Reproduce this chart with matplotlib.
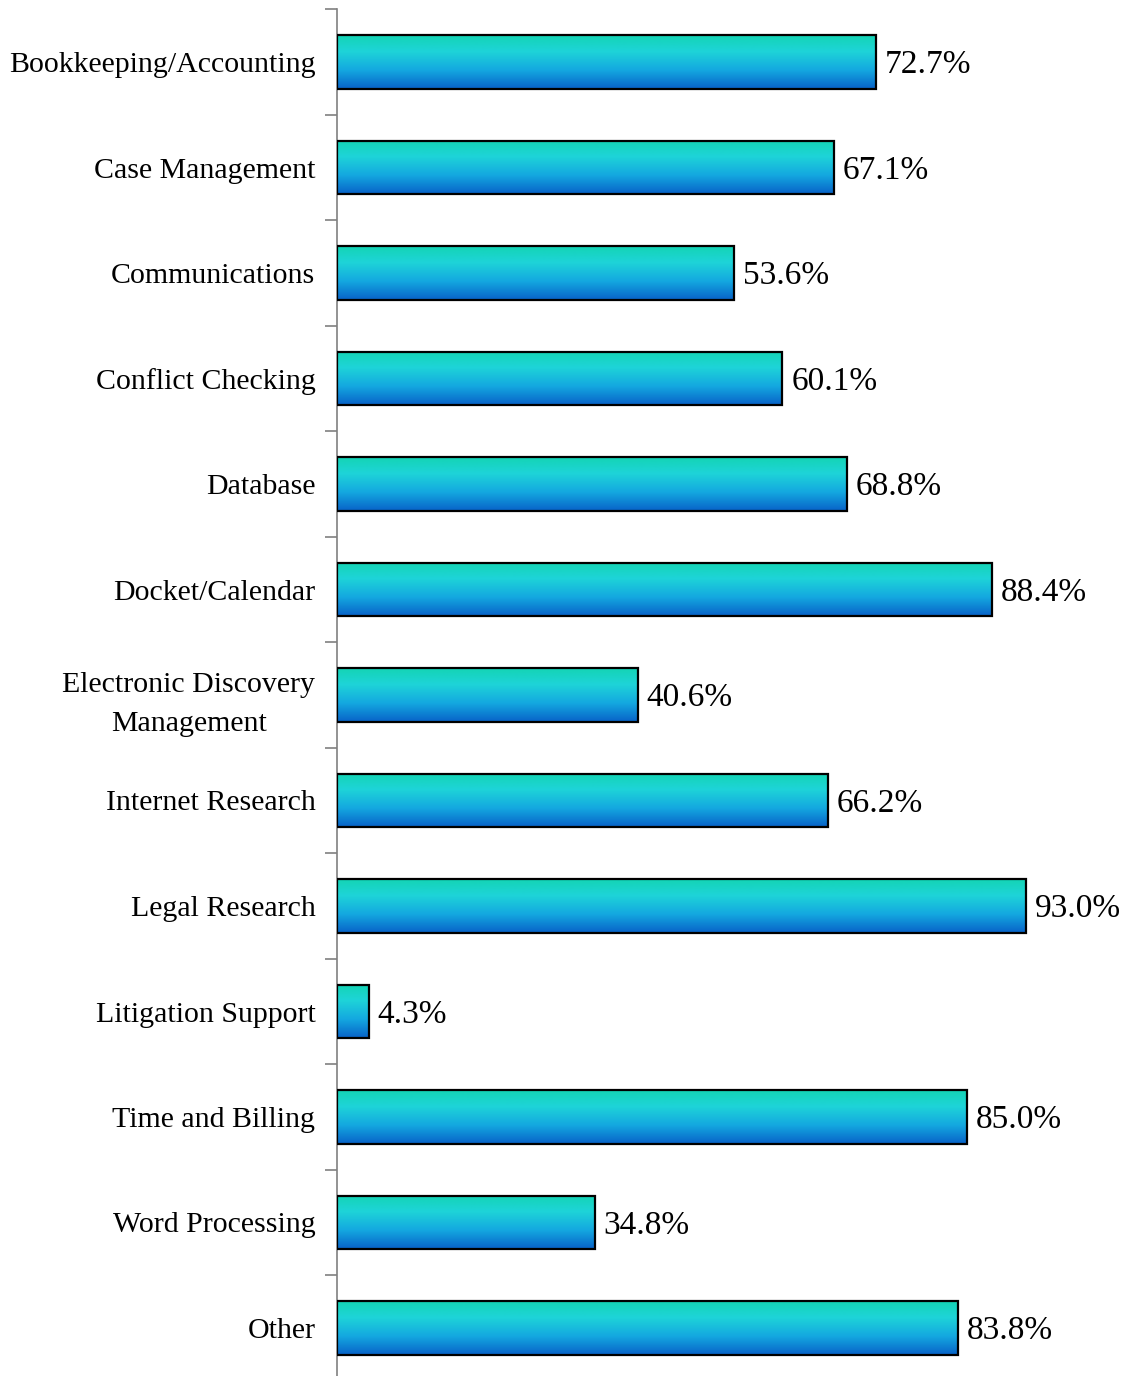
#!/usr/bin/env python3
"""
Horizontal bar chart of practice management features with gradient bars
"""
import numpy as np
import matplotlib.pyplot as plt
from matplotlib.colors import LinearSegmentedColormap

categories = ['Bookkeeping/Accounting', 'Case Management', 'Communications',
              'Conflict Checking', 'Database', 'Docket/Calendar',
              'Electronic Discovery\nManagement', 'Internet Research',
              'Legal Research', 'Litigation Support', 'Time and Billing',
              'Word Processing', 'Other']
values = [72.7, 67.1, 53.6, 60.1, 68.8, 88.4, 40.6, 66.2, 93.0, 4.3, 85.0, 34.8, 83.8]
value_labels = ['%.1f%%' % v for v in values]

# Gradient from teal (top) through cyan to blue (bottom)
grad = LinearSegmentedColormap.from_list(
    'bar_grad', [(0.0, '#14d4b4'), (0.3, '#1ed4d8'), (0.65, '#14a8e0'), (1.0, '#0862c8')])

plt.rcParams['font.family'] = ['Liberation Serif', 'DejaVu Serif']

fig = plt.figure(figsize=(11.28, 13.76), dpi=100)
ax = fig.add_axes([337/1128, -4.75/1376, 741/1128, 1371.5/1376])

y = np.arange(len(categories))
bars = ax.barh(y, values, height=0.51, color='none', edgecolor='black', linewidth=1.6, zorder=3)

gradient = np.linspace(0, 1, 256).reshape(-1, 1)
for rect in bars:
    x0, y0 = rect.get_x(), rect.get_y()
    w, h = rect.get_width(), rect.get_height()
    im = ax.imshow(gradient, cmap=grad, aspect='auto', zorder=2,
                   extent=[x0, x0 + w, y0 + h, y0], origin='upper')
    im.set_clip_path(rect)

for yi, v, lab in zip(y, values, value_labels):
    ax.text(v + 1.2, yi + 0.03, lab, va='center', ha='left', fontsize=24)

ax.set_xlim(0, 100)
ax.set_ylim(len(categories) - 0.5, -0.5)

ax.set_yticks(y)
ax.set_yticklabels(categories, fontsize=21.5, multialignment='center', linespacing=1.65)
ax.tick_params(axis='y', which='major', length=0, pad=15.5)
ax.set_yticks(np.arange(-0.5, len(categories), 1.0), minor=True)
ax.tick_params(axis='y', which='minor', length=9, width=1.2, color='#808080', direction='out')
ax.set_xticks([])

for side in ['top', 'right', 'bottom']:
    ax.spines[side].set_visible(False)
ax.spines['left'].set_color('#808080')
ax.spines['left'].set_linewidth(1.2)

plt.savefig('out.png', dpi=100)
plt.close()
